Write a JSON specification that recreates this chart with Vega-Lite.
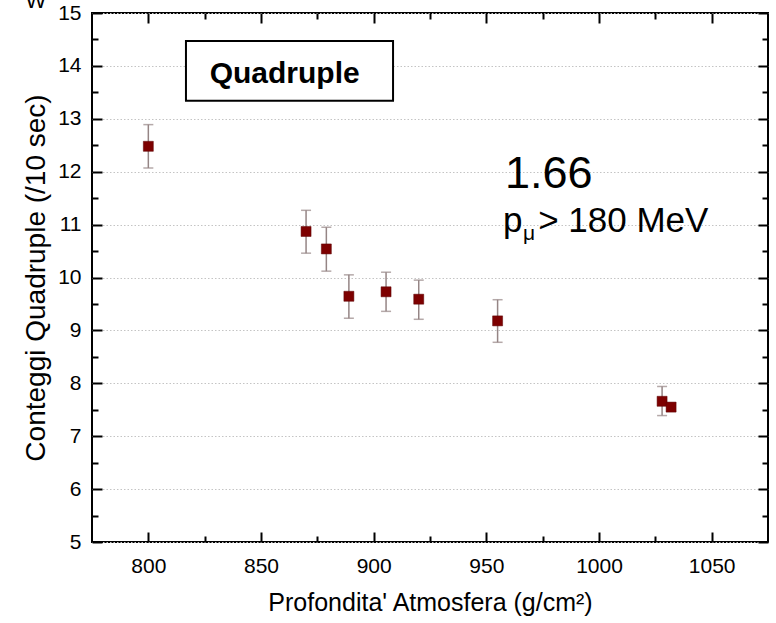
{
  "$schema": "https://vega.github.io/schema/vega-lite/v6.json",
  "width": 676,
  "height": 529,
  "autosize": {"type": "none"},
  "padding": {"left": 92, "top": 13, "right": 8, "bottom": 81},
  "background": "white",
  "config": {
    "view": {"stroke": "#000", "strokeWidth": 2},
    "font": "Liberation Sans",
    "axis": {
      "domain": false,
      "grid": false,
      "tickColor": "#000",
      "tickWidth": 2,
      "labelFont": "Liberation Sans",
      "labelFontSize": 21,
      "labelColor": "#000",
      "titleFont": "Liberation Sans",
      "titleFontWeight": "normal",
      "titleColor": "#000"
    }
  },
  "datasets": {
    "pts": [
      {"x": 800, "y": 12.48, "lo": 12.07, "hi": 12.89},
      {"x": 870, "y": 10.87, "lo": 10.46, "hi": 11.27},
      {"x": 879, "y": 10.54, "lo": 10.12, "hi": 10.95},
      {"x": 889, "y": 9.645, "lo": 9.23, "hi": 10.05},
      {"x": 905.5, "y": 9.73, "lo": 9.36, "hi": 10.10},
      {"x": 920, "y": 9.59, "lo": 9.21, "hi": 9.95},
      {"x": 955, "y": 9.18, "lo": 8.775, "hi": 9.58},
      {"x": 1028, "y": 7.66, "lo": 7.39, "hi": 7.94},
      {"x": 1032, "y": 7.55, "lo": 7.47, "hi": 7.63}
    ]
  },
  "data": {"name": "pts"},
  "resolve": {"axis": {"x": "independent", "y": "independent"}},
  "layer": [
    {
      "mark": {"type": "point", "opacity": 0},
      "encoding": {
        "x": {"field": "x", "type": "quantitative",
          "scale": {"domain": [775, 1075], "nice": false, "zero": false},
          "axis": {"orient": "bottom", "values": [800, 850, 900, 950, 1000, 1050], "format": "d", "tickSize": -10, "labelPadding": 23,
            "labelFontSize": 21, "labelFont": "Liberation Sans", "labelColor": "#000",
            "title": "Profondita' Atmosfera (g/cm²)", "titleFontSize": 25, "titlePadding": 14}},
        "y": {"field": "y", "type": "quantitative",
          "scale": {"domain": [5, 15], "nice": false, "zero": false},
          "axis": {"orient": "left", "values": [5, 6, 7, 8, 9, 10, 11, 12, 13, 14, 15], "format": "d", "tickSize": -10, "labelPadding": 21,
            "labelFontSize": 21, "labelFont": "Liberation Sans", "labelColor": "#000",
            "grid": true, "gridColor": "#c4c4c4", "gridDash": [1.5, 2], "gridWidth": 1,
            "title": "Conteggi Quadruple (/10 sec)", "titleFontSize": 28, "titlePadding": 7}}
      }
    },
    {
      "mark": {"type": "point", "opacity": 0},
      "encoding": {
        "x": {"field": "x", "type": "quantitative",
          "axis": {"orient": "bottom", "values": [825, 875, 925, 975, 1025], "tickSize": -6, "labels": false, "title": null}},
        "y": {"field": "y", "type": "quantitative",
          "axis": {"orient": "left", "values": [5.5, 6.5, 7.5, 8.5, 9.5, 10.5, 11.5, 12.5, 13.5, 14.5], "tickSize": -6, "labels": false, "title": null}}
      }
    },
    {
      "mark": {"type": "point", "opacity": 0},
      "encoding": {
        "x": {"field": "x", "type": "quantitative",
          "axis": {"orient": "top", "values": [800, 850, 900, 950, 1000, 1050], "tickSize": -10, "labels": false, "title": null}},
        "y": {"field": "y", "type": "quantitative",
          "axis": {"orient": "right", "values": [5, 6, 7, 8, 9, 10, 11, 12, 13, 14, 15], "tickSize": -10, "labels": false, "title": null}}
      }
    },
    {
      "mark": {"type": "point", "opacity": 0},
      "encoding": {
        "x": {"field": "x", "type": "quantitative",
          "axis": {"orient": "top", "values": [825, 875, 925, 975, 1025], "tickSize": -6, "labels": false, "title": null}},
        "y": {"field": "y", "type": "quantitative",
          "axis": {"orient": "right", "values": [5.5, 6.5, 7.5, 8.5, 9.5, 10.5, 11.5, 12.5, 13.5, 14.5], "tickSize": -6, "labels": false, "title": null}}
      }
    },
    {
      "data": {"values": [{"x1": 816.7, "x2": 908.6, "y1": 13.34, "y2": 14.47}]},
      "mark": {"type": "rect", "fill": "white", "stroke": "#000", "strokeWidth": 2},
      "encoding": {
        "x": {"field": "x1", "type": "quantitative", "axis": null},
        "x2": {"field": "x2"},
        "y": {"field": "y1", "type": "quantitative", "axis": null},
        "y2": {"field": "y2"}
      }
    },
    {
      "mark": {"type": "errorbar", "color": "#958585", "thickness": 1.5, "ticks": {"size": 10, "thickness": 1.5, "color": "#958585"}},
      "encoding": {
        "x": {"field": "x", "type": "quantitative", "axis": null},
        "y": {"field": "lo", "type": "quantitative", "axis": null},
        "y2": {"field": "hi"}
      }
    },
    {
      "mark": {"type": "square", "size": 100, "filled": true, "color": "#7d0000", "opacity": 1, "stroke": "#5c0000", "strokeWidth": 0.5},
      "encoding": {
        "x": {"field": "x", "type": "quantitative", "axis": null},
        "y": {"field": "y", "type": "quantitative", "axis": null}
      }
    },
    {
      "data": {"values": [{"label": "Quadruple", "x": 860.5, "y": 13.68}]},
      "mark": {"type": "text", "font": "Liberation Sans", "fontWeight": "bold", "fontSize": 30, "align": "center", "baseline": "alphabetic", "color": "#000"},
      "encoding": {
        "x": {"field": "x", "type": "quantitative", "axis": null},
        "y": {"field": "y", "type": "quantitative", "axis": null},
        "text": {"field": "label"}
      }
    },
    {
      "data": {"values": [{"label": "1.66", "x": 958.3, "y": 11.69}]},
      "mark": {"type": "text", "font": "Liberation Sans", "fontSize": 45, "align": "left", "baseline": "alphabetic", "color": "#000"},
      "encoding": {
        "x": {"field": "x", "type": "quantitative", "axis": null},
        "y": {"field": "y", "type": "quantitative", "axis": null},
        "text": {"field": "label"}
      }
    },
    {
      "data": {"values": [{"label": "p", "x": 957.4, "y": 10.86}, {"label": "> 180 MeV", "x": 973, "y": 10.86}]},
      "mark": {"type": "text", "font": "Liberation Sans", "fontSize": 35, "align": "left", "baseline": "alphabetic", "color": "#000"},
      "encoding": {
        "x": {"field": "x", "type": "quantitative", "axis": null},
        "y": {"field": "y", "type": "quantitative", "axis": null},
        "text": {"field": "label"}
      }
    },
    {
      "data": {"values": [{"label": "μ", "x": 966.3, "y": 10.71}]},
      "mark": {"type": "text", "font": "Liberation Sans", "fontSize": 21, "align": "left", "baseline": "alphabetic", "color": "#000"},
      "encoding": {
        "x": {"field": "x", "type": "quantitative", "axis": null},
        "y": {"field": "y", "type": "quantitative", "axis": null},
        "text": {"field": "label"}
      }
    },
    {
      "data": {"values": [{"label": "W", "x": 745.5, "y": 15.095}]},
      "mark": {"type": "text", "font": "Liberation Sans", "fontSize": 22, "align": "left", "baseline": "alphabetic", "color": "#000", "clip": false},
      "encoding": {
        "x": {"field": "x", "type": "quantitative", "axis": null},
        "y": {"field": "y", "type": "quantitative", "axis": null},
        "text": {"field": "label"}
      }
    }
  ]
}
